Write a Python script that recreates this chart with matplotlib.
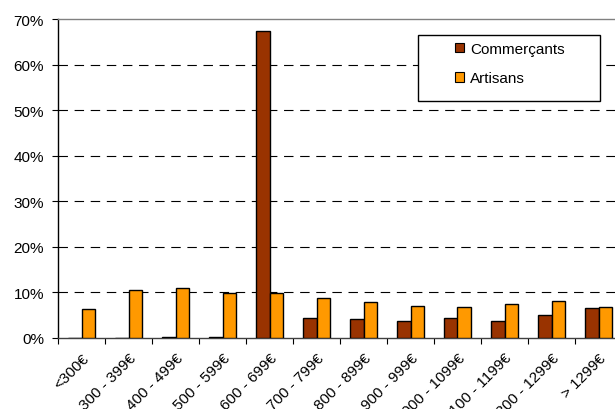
import matplotlib
matplotlib.use("Agg")
import matplotlib.pyplot as plt
import matplotlib.transforms as mtransforms
from matplotlib.patches import Rectangle
import numpy as np
from matplotlib.ticker import FixedLocator, NullFormatter

plt.rcParams['font.family'] = ['Liberation Sans', 'DejaVu Sans']

categories = ["<300€", "300 - 399€", "400 - 499€", "500 - 599€", "600 - 699€",
              "700 - 799€", "800 - 899€", "900 - 999€", "1000 - 1099€",
              "1100 - 1199€", "1200 - 1299€", "> 1299€"]
commercants = [0.0, 0.0, 0.3, 0.3, 67.4, 4.4, 4.1, 3.8, 4.4, 3.8, 5.0, 6.6]
artisans = [6.3, 10.5, 11.0, 9.9, 9.9, 8.8, 7.9, 7.1, 6.9, 7.5, 8.1, 6.9]
y_ticks = [0, 10, 20, 30, 40, 50, 60, 70]

W, H = 615, 410
fig = plt.figure(figsize=(W / 100, H / 100), dpi=100)
ax_left, ax_bottom, ax_w, ax_h = 58, 71, 564, 319
ax = fig.add_axes([ax_left / W, ax_bottom / H, ax_w / W, ax_h / H])

def px_to_axes(px, py):
    """Convert top-left-origin pixel coords to axes fraction."""
    return (px - ax_left) / ax_w, (H - py - ax_bottom) / ax_h

x = np.arange(len(categories))
w = 1 / 3.5
ax.bar(x - w/2, commercants, w, color="#993300", edgecolor="black", linewidth=1.0,
       label="Commerçants", zorder=3)
ax.bar(x + w/2, artisans, w, color="#FF9900", edgecolor="black", linewidth=1.0,
       label="Artisans", zorder=3)

ax.set_xlim(-0.5, len(categories) - 0.5)
ax.set_ylim(0, 70)
ax.set_yticks(y_ticks)
ax.set_yticklabels([f"{v}%" for v in y_ticks], fontsize=11)

for v in y_ticks[1:-1]:
    ax.axhline(v, color="black", linestyle=(0, (8.5, 6)), linewidth=0.8, zorder=1)

# Category ticks on the boundaries, labels centred under each group
ax.xaxis.set_major_locator(FixedLocator(np.arange(len(categories) + 1) - 0.5))
ax.xaxis.set_major_formatter(NullFormatter())
ax.xaxis.set_minor_locator(FixedLocator(x))
labels = ax.set_xticklabels(categories, minor=True, rotation=45, ha="right", va="top",
                            rotation_mode="anchor", fontsize=11)
shift = mtransforms.ScaledTranslation(-4 / 100, 0, fig.dpi_scale_trans)
for lab in labels:
    lab.set_transform(lab.get_transform() + shift)
ax.tick_params(axis="x", which="minor", length=0, pad=9)
ax.tick_params(axis="x", which="major", length=4, direction="out", color="black")
ax.tick_params(axis="y", length=4, direction="out", pad=6)

ax.spines["left"].set_color("black")
ax.spines["bottom"].set_color("#404040")
ax.spines["top"].set_color("#808080")
ax.spines["right"].set_color("#808080")
for s in ax.spines.values():
    s.set_linewidth(1.0)

# Legend box
bx0, by1 = px_to_axes(418, 102)
bx1, by0 = px_to_axes(600, 36)
ax.add_patch(Rectangle((bx0, by1), bx1 - bx0, by0 - by1, transform=ax.transAxes,
                       facecolor="white", edgecolor="black", linewidth=1.0, zorder=4))
lx, ly = px_to_axes(455, 43)
leg = ax.legend(loc="upper left", bbox_to_anchor=(lx, ly), frameon=False, fontsize=11,
                handlelength=0.6, handleheight=0.6, handletextpad=0.4,
                labelspacing=1.0, borderpad=0, borderaxespad=0)
leg.set_zorder(5)
for h in leg.legend_handles:
    h.set_linewidth(0.8)

fig.savefig("out.png", dpi=100)
